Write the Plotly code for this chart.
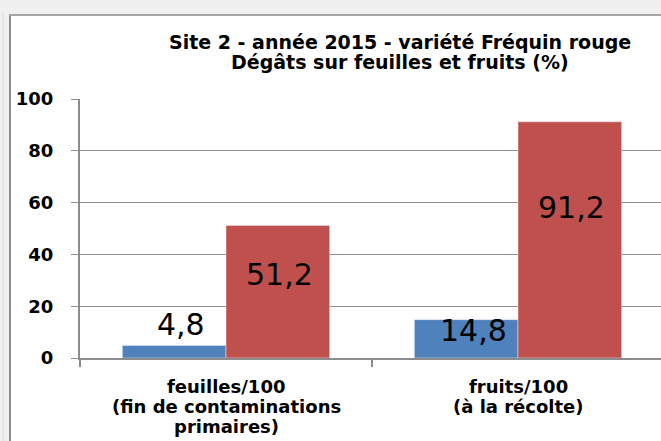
import plotly.graph_objects as go

categories = ["feuilles/100<br>(fin de contaminations<br>primaires)", "fruits/100<br>(à la récolte)"]
blue_values = [4.8, 14.8]
red_values = [51.2, 91.2]
blue_labels = ["4,8", "14,8"]
red_labels = ["51,2", "91,2"]
y_ticks = [0, 20, 40, 60, 80, 100]
title_lines = ["Site 2 - année 2015 - variété Fréquin rouge", "Dégâts sur feuilles et fruits (%)"]

# label placement offsets (pixels) relative to bar tops
blue_yshift = [21, -11]
red_yshift = [-49, -86]
blue_xshift = -45
red_xshift = 53

BLUE = "#4f81bd"
RED = "#c0504d"
GRID = "#8c8c8c"
FONT = "DejaVu Sans"

fig = go.Figure()
fig.add_trace(go.Bar(x=categories, y=blue_values, marker_color=BLUE, hoverinfo="skip"))
fig.add_trace(go.Bar(x=categories, y=red_values, marker_color=RED, hoverinfo="skip"))

annotations = []
for i, c in enumerate(categories):
    annotations.append(dict(x=c, y=blue_values[i], xref="x", yref="y", text=blue_labels[i],
                            showarrow=False, xshift=blue_xshift, yshift=blue_yshift[i],
                            yanchor="middle", font=dict(family=FONT, size=30, color="black")))
    annotations.append(dict(x=c, y=red_values[i], xref="x", yref="y", text=red_labels[i],
                            showarrow=False, xshift=red_xshift, yshift=red_yshift[i],
                            yanchor="middle", font=dict(family=FONT, size=30, color="black")))
    # category label lines, placed under the axis with tight line spacing
    for k, line in enumerate(c.split("<br>")):
        annotations.append(dict(x=c, y=0, xref="x", yref="y", text="<b>" + line + "</b>",
                                showarrow=False, yshift=-(28 + 20 * k), yanchor="middle",
                                font=dict(family=FONT, size=18, color="black")))

# title lines as separate annotations
for line, py in zip(title_lines, [42, 62]):
    annotations.append(dict(x=(400 - 80) / 581, y=(358 - py) / 259, xref="paper", yref="paper",
                            text="<b>" + line + "</b>", showarrow=False,
                            xanchor="center", yanchor="middle",
                            font=dict(family=FONT, size=19, color="black")))

shapes = [
    dict(type="rect", xref="paper", yref="paper", x0=(10 - 80) / 581, x1=1.2,
         y0=-0.4, y1=(358 - 15) / 259, fillcolor="white", line_width=0, layer="below"),
    dict(type="line", xref="paper", yref="paper", x0=(3 - 80) / 581, x1=(3 - 80) / 581,
         y0=-0.4, y1=(358 - 13) / 259, line=dict(color="#dadada", width=1), layer="below"),
    dict(type="line", xref="paper", yref="paper", x0=(10 - 80) / 581, x1=(10 - 80) / 581,
         y0=-0.4, y1=(358 - 14) / 259, line=dict(color="#8a8a8a", width=2), layer="below"),
    dict(type="line", xref="paper", yref="paper", x0=(9 - 80) / 581, x1=1.2,
         y0=(358 - 15) / 259, y1=(358 - 15) / 259, line=dict(color="#a6a6a6", width=2), layer="below"),
]

fig.update_layout(
    width=661, height=441,
    margin=dict(l=80, r=0, t=99, b=83),
    paper_bgcolor="#f0f0f0",
    plot_bgcolor="white",
    barmode="group",
    bargap=0.29,
    bargroupgap=0,
    showlegend=False,
    xaxis=dict(range=[-0.5, -0.5 + 581 / 292], showline=True, linecolor=GRID, linewidth=2,
               ticks="outside", tickson="boundaries", ticklen=7, tickcolor=GRID, tickwidth=2,
               showticklabels=False, showgrid=False, fixedrange=True),
    yaxis=dict(range=[0, 100], tickvals=y_ticks, showline=True, linecolor=GRID, linewidth=2,
               ticks="outside", ticklen=7, tickcolor=GRID, tickwidth=1,
               showgrid=True, gridcolor=GRID, gridwidth=1, zeroline=False,
               tickfont=dict(family=FONT, size=18, color="black", weight="bold"),
               ticklabelstandoff=14, fixedrange=True),
    annotations=annotations,
    shapes=shapes,
)

fig.write_html("out.html", config={"displayModeBar": False},
               post_script="document.body.style.margin='0';document.body.style.overflow='hidden';")
